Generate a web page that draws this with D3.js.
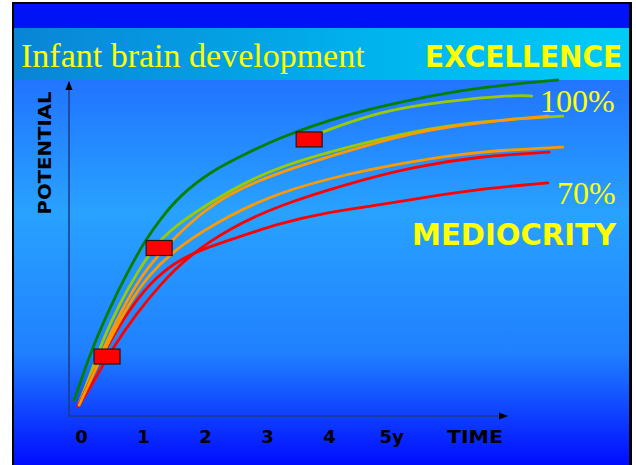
<!DOCTYPE html>
<html><head><meta charset="utf-8">
<script src="https://cdn.jsdelivr.net/npm/d3@7"></script>
<style>html,body{margin:0;padding:0;background:#fff;}svg{display:block;}</style>
</head><body>
<script>
// ---- data (time in years, potential in %) ----
const greenCurve = [[-0.11,4.8],[0.03,12.3],[0.19,20.7],[0.47,32.6],[0.74,42.8],[1.06,53.3],[1.27,58.7],[1.60,66.2],[2.13,73.7],[2.68,78.7],[3.21,83.5],[4.29,90.4],[5.35,94.9],[6.44,98.5],[7.69,100.6]];
const yellowTop = [[3.89,85.0],[4.82,91.3],[5.90,94.3],[6.97,96.1],[7.27,95.8]];
const yellowLow = [[-0.03,3.9],[0.15,12.3],[0.35,22.8],[0.63,33.8],[0.90,42.8],[1.23,52.1],[1.60,58.1],[2.40,67.7],[3.21,74.9],[4.29,80.5],[5.35,85.3],[6.44,88.3],[7.77,89.8]];
const orangeUpper = [[-0.03,3.3],[0.42,22.8],[0.74,34.7],[1.06,44.3],[1.47,52.7],[1.92,60.5],[2.40,66.8],[3.21,73.1],[4.29,79.3],[5.35,85.0],[6.44,88.0],[7.53,89.8]];
const orangeLower = [[-0.03,3.3],[0.44,22.2],[0.76,33.2],[1.08,42.2],[1.60,51.2],[2.40,60.2],[3.21,67.1],[4.29,72.5],[5.35,76.3],[6.44,79.3],[7.77,80.5]];
const redUpper = [[-0.03,3.3],[0.24,11.4],[0.52,20.7],[0.90,30.8],[1.27,39.2],[1.71,47.6],[2.40,56.3],[3.21,63.2],[4.29,69.5],[5.35,74.6],[6.44,77.8],[7.55,79.0]];
const redLower = [[-0.05,3.0],[0.19,12.3],[0.42,20.7],[0.74,30.8],[1.11,39.8],[1.52,46.1],[1.92,49.7],[2.40,52.7],[3.21,57.8],[4.02,61.1],[4.61,62.6],[5.68,65.9],[6.44,68.0],[7.53,69.8]];
const markers = [[0.42,17.8],[1.26,50.3],[3.68,82.8]];
const tickValues = [0,1,2,3,4,5];
const tickLabels = ["0","1","2","3","4","5y"];
const xTitle = "TIME", yTitle = "POTENTIAL";
const title = "Infant brain development";
const topLabel = "EXCELLENCE", bottomLabel = "MEDIOCRITY";
const pctHigh = "100%", pctLow = "70%";

const W = 636, H = 465;
const svg = d3.select("body").append("svg").attr("width", W).attr("height", H);
const defs = svg.append("defs");

const gMain = defs.append("linearGradient").attr("id","gMain").attr("x1",0).attr("y1",0).attr("x2",0).attr("y2",1);
[[0,"#1e5aff"],[0.45,"#28a2ff"],[0.75,"#2080ff"],[1,"#0008ff"]].forEach(s=>gMain.append("stop").attr("offset",s[0]).attr("stop-color",s[1]));
const gTitle = defs.append("linearGradient").attr("id","gTitle").attr("x1",0).attr("y1",0).attr("x2",1).attr("y2",0);
[[0,"#0a84d6"],[0.6,"#00b4ee"],[1,"#00ccf6"]].forEach(s=>gTitle.append("stop").attr("offset",s[0]).attr("stop-color",s[1]));
defs.append("marker").attr("id","arr").attr("viewBox","0 0 10 10").attr("refX",9).attr("refY",5)
  .attr("markerWidth",6).attr("markerHeight",6).attr("orient","auto-start-reverse")
  .append("path").attr("d","M0,1L10,5L0,9Z").attr("fill","#000");

// slide background
svg.append("rect").attr("x",12).attr("y",2).attr("width",620).attr("height",H).attr("fill","#000");
svg.append("rect").attr("x",14).attr("y",4).attr("width",615).attr("height",H).attr("fill","url(#gMain)");
svg.append("rect").attr("x",14).attr("y",4).attr("width",615).attr("height",24).attr("fill","#0012f6");
svg.append("rect").attr("x",14).attr("y",28).attr("width",615).attr("height",52).attr("fill","url(#gTitle)");

// scales
const x = d3.scaleLinear().domain([0,5]).range([81,391]);
const y = d3.scaleLinear().domain([0,100]).range([416,82]);

// axes
const axisColor = "#1b3a86";
svg.append("line").attr("x1",69).attr("y1",y(0)).attr("x2",69).attr("y2",y(100))
  .attr("stroke",axisColor).attr("stroke-width",1.5).attr("marker-end","url(#arr)");
svg.append("line").attr("x1",69).attr("y1",y(0)).attr("x2",507).attr("y2",y(0))
  .attr("stroke",axisColor).attr("stroke-width",1.5).attr("marker-end","url(#arr)");

const xAxis = d3.axisBottom(x).tickValues(tickValues).tickFormat((d,i)=>tickLabels[i]).tickSize(0).tickPadding(0);
const ax = svg.append("g").attr("transform","translate(0,443)").call(xAxis);
ax.select(".domain").remove();
ax.selectAll("text").attr("dy",0).attr("y",0).attr("fill","#000")
  .style("font-family","'DejaVu Sans'").style("font-weight","bold").style("font-size","18px");

svg.append("text").attr("x",475).attr("y",443).attr("text-anchor","middle")
  .attr("textLength",56).attr("lengthAdjust","spacingAndGlyphs")
  .style("font-family","'DejaVu Sans'").style("font-weight","bold").style("font-size","18px").text(xTitle);
svg.append("text").attr("transform","translate(51,153) rotate(-90)").attr("text-anchor","middle")
  .attr("textLength",123).attr("lengthAdjust","spacingAndGlyphs")
  .style("font-family","'DejaVu Sans'").style("font-weight","bold").style("font-size","17px").text(yTitle);

// curves
const line = d3.line().x(d=>x(d[0])).y(d=>y(d[1])).curve(d3.curveBasis);
const series = [
  [yellowLow,"#99cc00"],[orangeUpper,"#ff9900"],[redLower,"#ff0000"],[redUpper,"#ff0000"],
  [orangeLower,"#ff9900"],[greenCurve,"#008000"],[yellowTop,"#99cc00"]
];
svg.append("g").selectAll("path").data(series).join("path")
  .attr("d",d=>line(d[0])).attr("fill","none").attr("stroke",d=>d[1])
  .attr("stroke-width",2.8).attr("stroke-linecap","round");

// markers
svg.append("g").selectAll("rect").data(markers).join("rect")
  .attr("x",d=>x(d[0])-13).attr("y",d=>y(d[1])-7.5).attr("width",26).attr("height",15)
  .attr("fill","#ff0000").attr("stroke","#1a1a1a").attr("stroke-width",1.2);

// texts
svg.append("text").attr("x",21).attr("y",67).attr("fill","#ffff00")
  .style("font-family","'Liberation Serif'").style("font-size","34px").text(title);
svg.append("text").attr("x",425).attr("y",67).attr("fill","#ffff00")
  .attr("textLength",197).attr("lengthAdjust","spacingAndGlyphs")
  .style("font-family","'DejaVu Sans'").style("font-weight","bold").style("font-size","30px").text(topLabel);
svg.append("text").attr("x",412).attr("y",245).attr("fill","#ffff00")
  .attr("textLength",204).attr("lengthAdjust","spacingAndGlyphs")
  .style("font-family","'DejaVu Sans'").style("font-weight","bold").style("font-size","30px").text(bottomLabel);
svg.append("text").attr("x",540).attr("y",112).attr("fill","#ffff00")
  .style("font-family","'Liberation Serif'").style("font-size","32px").text(pctHigh);
svg.append("text").attr("x",557).attr("y",204).attr("fill","#ffff00")
  .style("font-family","'Liberation Serif'").style("font-size","32px").text(pctLow);
</script>
</body></html>
